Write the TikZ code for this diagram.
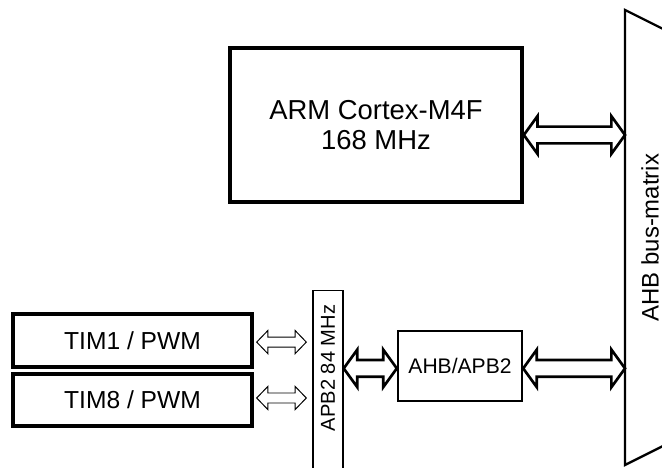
\documentclass[tikz,border=0pt]{standalone}
\usepackage{fontspec}
\setmainfont{Liberation Sans}
\usetikzlibrary{calc,positioning}
\tikzset{twoway/.style n args={3}{to path={let \p1=(\tikztostart), \p2=(\tikztotarget) in
    (\x1,\y1) -- ({\x1+#1},{\y1+#2}) -- ({\x1+#1},{\y1+#3}) -- ({\x2-#1},{\y1+#3})
    -- ({\x2-#1},{\y1+#2}) -- (\x2,\y1) -- ({\x2-#1},{\y1-#2}) -- ({\x2-#1},{\y1-#3})
    -- ({\x1+#1},{\y1-#3}) -- ({\x1+#1},{\y1-#2}) -- cycle}},
  fatbus/.style={line width=1.9pt, twoway={3.4mm}{4.7mm}{2.1mm}},
  thinbus/.style={line width=0.7pt, twoway={2.8mm}{2.9mm}{1.25mm}},
  blk/.style={draw, line width=2.4pt, minimum width=5.975cm, minimum height=1.3cm, font=\fontsize{17.5}{20}\selectfont}}
\begin{document}
\begin{tikzpicture}
  \useasboundingbox (0,0) rectangle (16.55,11.7);
  % core
  \node[draw, line width=2.6pt, minimum width=7.3cm, minimum height=3.85cm, align=center,
        font=\fontsize{19.5}{21.5}\selectfont] (cpu) at (9.4,8.575) {ARM Cortex-M4F\\168 MHz};
  % bus matrix
  \coordinate (mtxnw) at (15.625,11.45);
  \coordinate (mtxsw) at (15.625,0.075);
  \draw[line width=1.6pt] ($(mtxnw)+(2,-1)$) -- (mtxnw) -- (mtxsw) -- ($(mtxsw)+(2,1)$);
  \node[rotate=90, font=\fontsize{17}{20}\selectfont] (mtx) at (16.25,5.76) {AHB bus-matrix};
  % APB2 bus
  \node[draw, line width=1pt, minimum width=0.75cm, minimum height=5cm, anchor=north] (apb) at (8.2,4.45) {};
  \node[rotate=90, font=\fontsize{14.3}{16}\selectfont] (apblbl) at (8.2,2.5) {APB2 84 MHz};
  % timers
  \node[blk, minimum height=1.325cm] (tim1) at (3.3125,3.1875) {TIM1 / PWM};
  \node[blk] (tim8) at (3.3125,1.7) {TIM8 / PWM};
  % bridge
  \node[draw, line width=1.7pt, minimum width=3.1cm, minimum height=1.75cm,
        font=\fontsize{15}{18}\selectfont] (brg) at (11.5,2.55) {AHB/APB2};
  % links
  \draw[fatbus] ([yshift=-2.5mm]cpu.east) to (mtxnw |- cpu.east);
  \draw[fatbus] ([yshift=-0.6mm]apb.east |- brg.west) to (brg.west);
  \draw[fatbus] ([yshift=-0.6mm]brg.east) to (mtxnw |- brg.east);
  \draw[thinbus] ([shift={(0.75mm,-0.4mm)}]tim1.east) to ([xshift=-1.5mm]apb.west |- tim1.east);
  \draw[thinbus] ([shift={(0.75mm,0.5mm)}]tim8.east) to ([xshift=-1.5mm]apb.west |- tim8.east);
\end{tikzpicture}
\end{document}
